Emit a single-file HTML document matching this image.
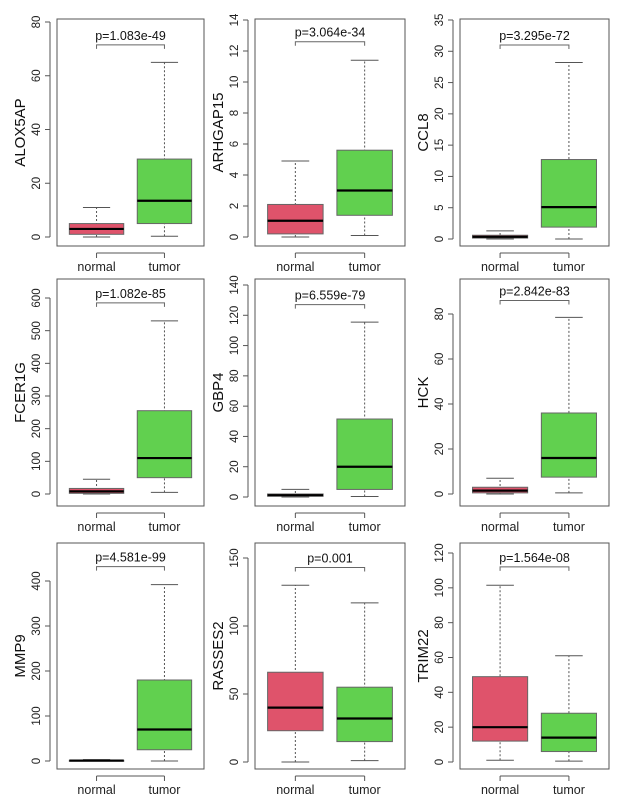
<!DOCTYPE html>
<html><head><meta charset="utf-8"><style>
html,body{margin:0;padding:0;background:#fff;}
svg{display:block;font-family:"Liberation Sans",Arial,sans-serif;}
</style></head><body>
<svg id="c" width="624" height="798" viewBox="0 0 624 798" xmlns="http://www.w3.org/2000/svg"></svg>
<script>
const genes=["ALOX5AP","ARHGAP15","CCL8","FCER1G","GBP4","HCK","MMP9","RASSES2","TRIM22"];
const pvals=["p=1.083e-49","p=3.064e-34","p=3.295e-72","p=1.082e-85","p=6.559e-79","p=2.842e-83","p=4.581e-99","p=0.001","p=1.564e-08"];
// [lowWhisker, Q1, median, Q3, highWhisker]
const normalStats=[[0,1,3,5,11],[0,0.2,1.05,2.1,4.9],[0,0.15,0.35,0.6,1.3],[0,2,8,17,45],[0,0.5,1.2,2,5],[0,0.5,1.5,3,7],[0,0.5,1,1.5,3],[0,23,40,66,130],[1,12,20,49,101.5]];
const tumorStats=[[0.3,5,13.5,29,65],[0.1,1.4,3.0,5.6,11.4],[0,1.9,5.1,12.7,28.2],[5,50,110,255,530],[0.3,5,20,51.5,115.5],[0.5,7.5,16,36,78.5],[0,25,70,180,392],[1,15,32,55,117],[0.5,6,14,28,61]];
const bracketVals=[71.5,12.6,31,585,127,86,432,143,112];
const tickMax=[80,14,35,600,140,80,400,150,120];
const tickStep=[20,2,5,100,20,20,100,50,20];
</script>
<script>
const svg=document.getElementById('c');
const NS="http://www.w3.org/2000/svg";
const colL=[57,255,460], colR=[204,405,609];
const rowT=[19,279,543], rowB=[246,506,769];
const zeroPx=[237,237,239,494,497,494,761,762,762];
const topPx=[22,20,20,298,285,314,581,558,553];
function mk(tag,attrs,parent){const e=document.createElementNS(NS,tag);for(const k in attrs)e.setAttribute(k,attrs[k]);(parent||svg).appendChild(e);return e;}
for(let i=0;i<9;i++){
  const c=i%3,r=Math.floor(i/3);
  const L=colL[c],R=colR[c],T=rowT[r],B=rowB[r],W=R-L;
  const y=v=>zeroPx[i]+(topPx[i]-zeroPx[i])*v/tickMax[i];
  const xpos=k=>L+W*(k===0?0.269:0.731);
  const bw=W*0.37;
  const g=mk('g',{});
  
  
  [normalStats[i],tumorStats[i]].forEach((s,k)=>{
    const cx=xpos(k),col=k===0?'#DF536B':'#61D04F';
    const wh=mk('line',{x1:cx,x2:cx,y1:y(s[0]),y2:y(s[4]),stroke:'#555','stroke-dasharray':'2,2','stroke-width':1},g);
    
    
    [s[0],s[4]].forEach(v=>mk('line',{x1:cx-bw/4,x2:cx+bw/4,y1:y(v),y2:y(v),stroke:'#555','stroke-width':1},g));
    const rc=mk('rect',{x:cx-bw/2,y:y(s[3]),width:bw,height:Math.max(1,y(s[1])-y(s[3])),fill:col,stroke:'#666','stroke-width':1},g);
    
    
    mk('line',{x1:cx-bw/2,x2:cx+bw/2,y1:y(s[2]),y2:y(s[2]),stroke:'#000','stroke-width':2.2},g);
  });
  mk('rect',{x:L,y:T,width:W,height:B-T,fill:'none',stroke:'#555','stroke-width':1},g);
  const ax=L-7;
  mk('line',{x1:ax,x2:ax,y1:y(0),y2:y(tickMax[i]),stroke:'#555'},g);
  for(let v=0;v<=tickMax[i]+1e-9;v+=tickStep[i]){
    mk('line',{x1:ax-5,x2:ax,y1:y(v),y2:y(v),stroke:'#555'},g);
    const t=mk('text',{x:0,y:0,transform:`translate(${L-17},${y(v)}) rotate(-90)`,'text-anchor':'middle','font-size':11.5,fill:'#222'},g);
    t.textContent=v;
    
    
  }
  const gl=mk('text',{transform:`translate(${L-32},${(T+B)/2}) rotate(-90)`,'text-anchor':'middle','font-size':15,fill:'#111'},g);
  gl.textContent=genes[i];
  
  
  mk('line',{x1:xpos(0),x2:xpos(1),y1:B+7,y2:B+7,stroke:'#555'},g);
  ['normal','tumor'].forEach((n,k)=>{
    mk('line',{x1:xpos(k),x2:xpos(k),y1:B+7,y2:B+12,stroke:'#555'},g);
    const t=mk('text',{x:xpos(k),y:B+25,'text-anchor':'middle','font-size':12.5,fill:'#222'},g);
    t.textContent=n;
    
    
  });
  const by=y(bracketVals[i]);
  const br=mk('path',{d:`M${xpos(0)},${by+4}V${by}H${xpos(1)}V${by+4}`,fill:'none',stroke:'#666'},g);
  
  
  const pt=mk('text',{x:(xpos(0)+xpos(1))/2,y:by-5,'text-anchor':'middle','font-size':12.5,fill:'#111'},g);
  pt.textContent=pvals[i];
  
  
}
</script>
</body></html>
